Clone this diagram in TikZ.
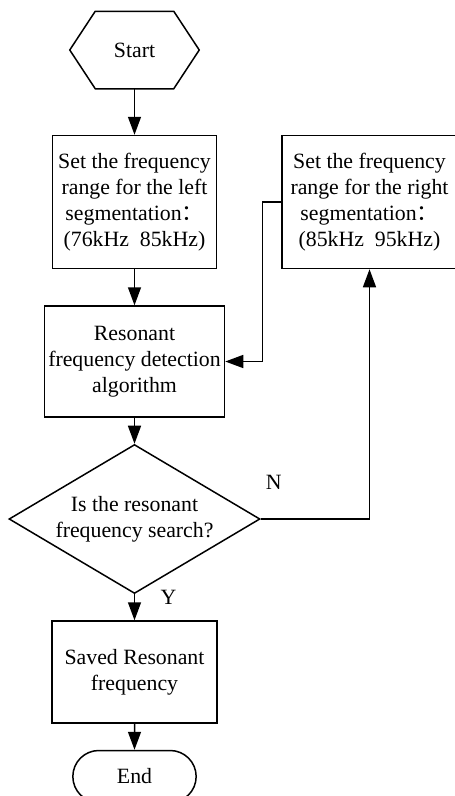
\documentclass[tikz,border=0pt]{standalone}
\usepackage{fontspec}
\setmainfont{Liberation Serif}
\newfontfamily\cjk{Noto Sans CJK SC}
\usetikzlibrary{positioning,shapes.geometric,shapes.misc,arrows.meta}

\begin{document}
\begin{tikzpicture}[
		font=\fontsize{21.8}{26}\selectfont,
		line width=1.5pt,
		box/.style={draw, rectangle, align=center, inner sep=0pt},
		arr/.style={-{Triangle[length=18pt,width=13pt]}},
	]
	\useasboundingbox (0,0) rectangle (455pt,-796pt);
	%% start
	\node[minimum width=77pt, minimum height=76pt, inner sep=0pt] (start) at (134.5pt,-50pt) {Start};
	\draw (start.north west) -- (start.north east) -- ([xshift=25.5pt]start.east) -- (start.south east)
		-- (start.south west) -- ([xshift=-25.5pt]start.west) -- cycle;
	%% left / right segmentation
	\node[box, minimum width=164pt, minimum height=133pt, below=46pt of start] (left)
		{Set the frequency\\range for the left\\segmentation\cjk{：}\\(76kHz\ \ 85kHz)};
	\node[box, minimum width=175pt, minimum height=133pt, right=64pt of left] (right)
		{Set the frequency\\range for the right\\segmentation\cjk{：}\\(85kHz\ \ 95kHz)};
	%% detection
	\node[box, minimum width=180pt, minimum height=111pt, below=36pt of left] (algo)
		{Resonant\\frequency detection\\algorithm};
	\node[draw, diamond, aspect=1.68, inner sep=0pt, align=center,
		minimum width=251pt, minimum height=149pt, below=26pt of algo] (judge)
		{Is the resonant\\frequency search?};
	\node[box, minimum width=165pt, minimum height=102pt, below=26pt of judge] (save)
		{Saved Resonant\\frequency};
	\node[draw, rounded rectangle, minimum width=130pt, minimum height=52pt, below=26pt of save] (stop) {End};
	% labels
	\node (no) at ([shift={(13pt,37pt)}]judge.east) {N};
	\node (yes) at ([shift={(34pt,-3pt)}]judge.south) {Y};
	% arrows
	\draw[arr] (start) -- (left);
	\draw[arr] (left) -- (algo);
	\draw[arr] (algo) -- (judge);
	\draw[arr] (judge) -- (save);
	\draw[arr] (save) -- (stop);
	\draw[arr] (right.west) -- ++(-19pt,0) |- (algo.east);
	\draw[arr] (judge.east) -| (right.south);
\end{tikzpicture}
\end{document}
